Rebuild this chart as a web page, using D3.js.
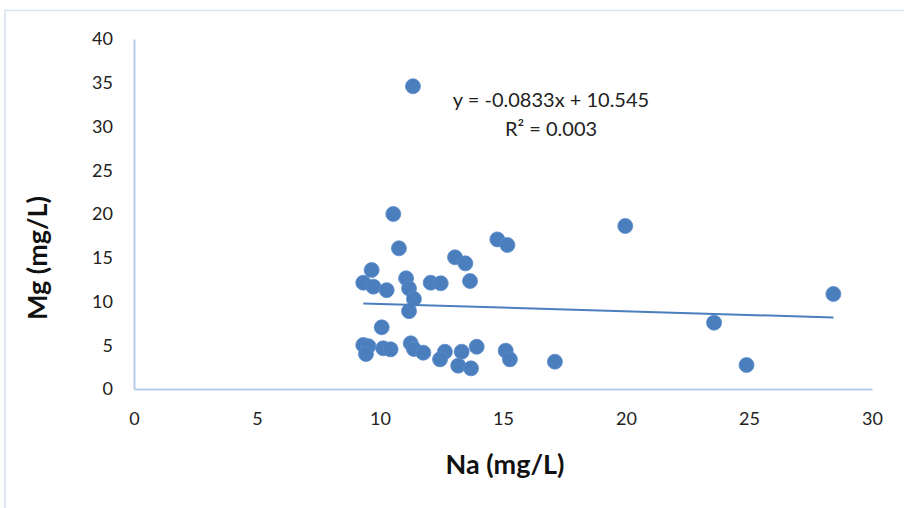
<!DOCTYPE html>
<html><head><meta charset="utf-8">
<script src="https://cdn.jsdelivr.net/npm/d3@7"></script>
<style>body{margin:0;background:#fff}svg{display:block}text{font-family:Lato,"Open Sans",sans-serif}</style>
</head><body><svg id="c" width="904" height="508"></svg>
<script>
const naValues = [10.54,10.77,9.66,9.32,9.73,10.27,11.06,11.18,11.38,11.18,12.06,12.47,13.05,13.47,13.66,14.77,15.18,10.07,9.32,9.53,9.43,10.13,10.43,11.25,11.38,11.76,12.64,12.44,13.32,13.18,13.7,13.93,15.11,15.28,19.97,28.43,23.58,17.11,24.9,11.34];
const mgValues = [20.0,16.08,13.6,12.15,11.7,11.3,12.65,11.5,10.29,8.9,12.15,12.08,15.05,14.36,12.34,17.1,16.46,7.05,5.03,4.9,4.0,4.65,4.53,5.22,4.57,4.15,4.26,3.39,4.26,2.67,2.36,4.83,4.38,3.39,18.63,10.86,7.58,3.12,2.74,34.6];
const xTicks = [0,5,10,15,20,25,30];
const yTicks = [0,5,10,15,20,25,30,35,40];
const trendSlope = -0.0833, trendIntercept = 10.545;
const eqLines = ["y = -0.0833x + 10.545", "R² = 0.003"];
const xTitle = "Na (mg/L)", yTitle = "Mg (mg/L)";

const svg = d3.select("#c");
svg.append("rect").attr("x",5).attr("y",10.5).attr("width",920).attr("height",520)
  .attr("fill","none").attr("stroke","#d6e1f2").attr("stroke-width",1.5);

const x = d3.scaleLinear().domain([0,30]).range([134,872]);
const y = d3.scaleLinear().domain([0,40]).range([389,39]);

const xAxis = svg.append("g").attr("transform","translate(0,389)")
  .call(d3.axisBottom(x).tickValues(xTicks).tickSize(0).tickPadding(23));
xAxis.select(".domain").attr("stroke","#b7cbe9").attr("stroke-width",2);
xAxis.selectAll("text").attr("font-size",18).attr("fill","#222");

const yAxis = svg.append("g").attr("transform","translate(134,0)")
  .call(d3.axisLeft(y).tickValues(yTicks).tickSize(0).tickPadding(21));
yAxis.select(".domain").attr("stroke","#b7cbe9").attr("stroke-width",2);
yAxis.selectAll("text").attr("font-size",18).attr("fill","#222");

const data = naValues.map((v,i)=>({na:v, mg:mgValues[i]}));
svg.append("g").selectAll("circle").data(data).join("circle")
  .attr("cx",d=>x(d.na)).attr("cy",d=>y(d.mg)).attr("r",7.5)
  .attr("fill","#4a7ebd").attr("stroke","#5a8ccc").attr("stroke-width",0.8);

const xmin = d3.min(naValues), xmax = d3.max(naValues);
svg.append("line")
  .attr("x1",x(xmin)).attr("y1",y(trendSlope*xmin+trendIntercept))
  .attr("x2",x(xmax)).attr("y2",y(trendSlope*xmax+trendIntercept))
  .attr("stroke","#4a7ebd").attr("stroke-width",2);

svg.append("g").selectAll("text").data(eqLines).join("text")
  .attr("x",551).attr("y",(d,i)=>107+i*29).attr("text-anchor","middle")
  .attr("font-size",20).attr("fill","#222").text(d=>d);

svg.append("text").attr("x",505).attr("y",474).attr("text-anchor","middle")
  .attr("font-size",27).attr("font-weight","bold").attr("fill","#111").text(xTitle);
svg.append("text").attr("transform","translate(47,258) rotate(-90)").attr("text-anchor","middle")
  .attr("font-size",27).attr("font-weight","bold").attr("fill","#111").text(yTitle);
</script></body></html>
